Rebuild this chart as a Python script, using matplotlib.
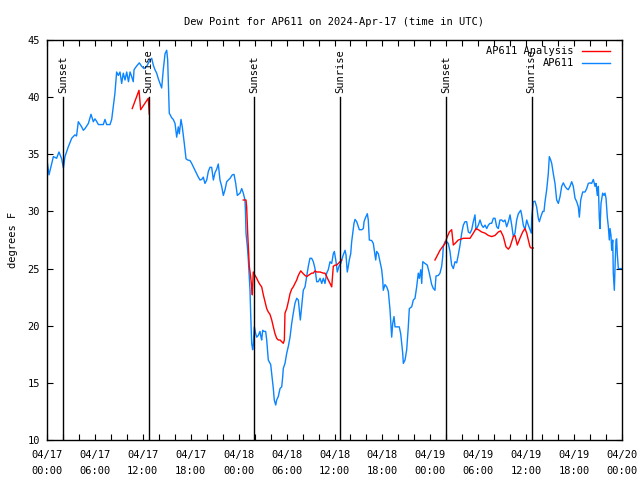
import matplotlib
matplotlib.use("Agg")
import matplotlib.pyplot as plt
import numpy as np

# ---------------- data ----------------
title = "Dew Point for AP611 on 2024-Apr-17 (time in UTC)"

# hours since 2024-04-17 00:00 UTC, dew point (F) for station AP611
obs_hours = [0.0, 0.25, 0.8, 1.2, 1.5, 1.84, 2.05, 2.25, 2.67, 3.09, 3.5, 3.7, 3.92, 4.34, 4.55, 4.76,
             5.18, 5.51, 5.8, 6.0, 6.2, 6.43, 7.05, 7.26, 7.47, 7.89, 8.1, 8.3, 8.5, 8.72, 8.93, 9.14,
             9.35, 9.55, 9.77, 9.98, 10.2, 10.4, 10.6, 10.8, 10.9, 11.2, 11.56, 11.85, 12.15, 12.48,
             12.9, 13.11, 13.31, 13.52, 13.73, 13.94, 14.15, 14.36, 14.56, 14.78, 14.99, 15.11, 15.19,
             15.31, 15.61, 15.81, 16.03, 16.24, 16.44, 16.57, 16.78, 16.94, 17.19, 17.41, 17.62, 17.91,
             18.12, 18.32, 18.53, 18.74, 18.95, 19.16, 19.37, 19.57, 19.78, 20.0, 20.2, 20.41, 20.62,
             20.83, 21.04, 21.25, 21.45, 21.66, 21.87, 22.08, 22.29, 22.5, 22.92, 23.2, 23.42, 23.63,
             23.83, 24.17, 24.38, 24.58, 24.79, 24.85, 24.92, 25.09, 25.21, 25.33, 25.42, 25.5, 25.63,
             25.75, 25.83, 25.96, 26.13, 26.26, 26.46, 26.67, 26.8, 26.88, 27.01, 27.17, 27.38, 27.51,
             27.71, 28.01, 28.14, 28.34, 28.46, 28.64, 28.76, 28.96, 29.18, 29.39, 29.51, 29.59, 29.8,
             30.02, 30.22, 30.43, 30.64, 30.84, 31.05, 31.27, 31.47, 31.59, 31.72, 31.89, 32.09, 32.31,
             32.52, 32.72, 32.93, 33.14, 33.35, 33.56, 33.77, 33.97, 34.19, 34.4, 34.6, 34.81, 35.02,
             35.22, 35.44, 35.65, 35.85, 35.98, 36.19, 36.35, 36.56, 36.78, 36.9, 37.1, 37.32, 37.44,
             37.6, 37.73, 37.85, 38.03, 38.15, 38.28, 38.44, 38.57, 38.78, 38.98, 39.11, 39.41, 39.61,
             39.7, 39.91, 40.11, 40.23, 40.36, 40.66, 40.86, 40.98, 41.16, 41.28, 41.49, 41.7, 41.91,
             42.04, 42.11, 42.32, 42.54, 42.74, 42.95, 43.08, 43.16, 43.29, 43.45, 43.58, 43.79, 44.11,
             44.29, 44.41, 44.54, 44.62, 44.83, 45.04, 45.24, 45.37, 45.67, 45.87, 46.08, 46.29, 46.49,
             46.62, 46.8, 46.92, 47.05, 47.33, 47.62, 47.87, 48.17, 48.37, 48.58, 48.71, 49.0, 49.21,
             49.42, 49.55, 49.62, 49.75, 49.84, 50.05, 50.25, 50.46, 50.67, 50.88, 51.09, 51.3, 51.5,
             51.72, 51.93, 52.13, 52.34, 52.55, 52.76, 52.97, 53.18, 53.38, 53.59, 53.72, 54.01, 54.22,
             54.43, 54.63, 54.85, 55.06, 55.26, 55.47, 55.68, 55.89, 56.1, 56.31, 56.51, 56.72, 56.94,
             57.14, 57.35, 57.56, 57.77, 57.98, 58.19, 58.39, 58.6, 58.81, 59.02, 59.32, 59.44, 59.64,
             59.85, 60.07, 60.27, 60.48, 60.64, 60.69, 60.89, 61.1, 61.31, 61.52, 61.65, 61.82, 62.07,
             62.23, 62.36, 62.57, 62.77, 62.9, 63.07, 63.2, 63.4, 63.61, 63.82, 64.03, 64.24, 64.45,
             64.65, 64.86, 65.07, 65.27, 65.49, 65.7, 65.9, 66.12, 66.33, 66.53, 66.66, 66.83, 67.08,
             67.37, 67.58, 67.78, 67.99, 68.2, 68.41, 68.62, 68.75, 68.91, 69.04, 69.16, 69.25, 69.37,
             69.58, 69.75, 69.87, 70.0, 70.16, 70.29, 70.41, 70.5, 70.62, 70.71, 70.84, 70.91, 71.04,
             71.13, 71.25, 71.33, 71.41, 71.54, 71.75, 72.0]
obs_dewpt = [34.5, 33.2, 34.8, 34.65, 35.2, 34.6, 33.8, 34.8, 35.66, 36.4, 36.7, 36.6, 37.85, 37.4, 37.1, 37.25,
             37.7, 38.5, 37.85, 38.1, 37.9, 37.6, 37.6, 38.05, 37.6, 37.6, 38.05, 39.2, 40.3, 42.2, 41.9, 42.2,
             41.2, 42.1, 41.5, 42.2, 41.35, 42.2, 41.8, 41.35, 42.4, 42.7, 43.0, 42.7, 42.5, 42.7,
             43.25, 43.4, 42.8, 42.4, 42.1, 41.6, 41.2, 40.8, 42.4, 43.8, 44.1, 43.25, 41.5,
             38.6, 38.2, 38.05, 37.7, 36.5, 37.4, 36.8, 38.05, 37.4, 35.96, 34.6, 34.5, 34.45,
             34.2, 33.9, 33.6, 33.3, 33.0, 32.75, 32.8, 33.0, 32.45, 32.75, 33.5, 33.86, 33.86,
             32.75, 33.4, 33.7, 34.15, 32.75, 32.2, 31.4, 31.9, 32.6, 32.9, 33.2, 33.24, 32.45,
             31.4, 31.6, 32.0, 31.6, 31.0, 30.0, 28.1, 26.9, 25.75, 24.3, 23.1, 21.1, 18.46,
             17.9, 18.3, 19.9, 19.3, 19.0, 19.15, 19.5, 19.0, 18.75, 19.6, 19.5, 19.5, 18.75,
             17.0, 16.6, 15.8, 14.5, 13.5, 13.06, 13.5, 13.8, 14.5, 14.66, 15.5, 16.27, 16.7,
             17.6, 18.2, 19.0, 20.2, 21.1, 21.96, 22.4, 22.25, 21.4, 20.5, 21.7, 23.1, 23.4,
             24.3, 25.2, 25.9, 25.9, 25.6, 25.0, 23.85, 23.85, 24.15, 23.7, 24.15, 23.7, 24.6,
             24.9, 25.6, 25.45, 26.3, 26.5, 25.6, 24.7, 25.2, 25.45, 25.75, 26.2, 26.6, 26.2,
             24.7, 25.2, 25.75, 26.3, 27.35, 28.1, 28.96, 29.3, 29.1, 28.66, 28.4, 28.4, 28.5,
             29.1, 29.5, 29.8, 29.25, 27.5, 27.45, 27.2, 26.6, 25.75, 26.5, 26.3, 25.6, 24.9,
             24.0, 23.1, 23.6, 23.4, 23.0, 21.4, 19.9, 19.0, 20.2, 20.8, 19.9, 19.9, 19.9,
             19.3, 18.46, 17.6, 16.7, 17.0, 17.9, 19.9, 21.5, 21.66, 22.25, 22.4, 23.4, 24.6,
             24.15, 24.9, 23.7, 25.6, 25.45, 25.3, 24.6, 23.6, 23.27, 23.1, 24.35, 24.4, 24.6,
             25.2, 26.05, 26.9, 27.2, 27.35, 27.35, 27.2, 26.5, 25.3, 25.0, 25.6, 25.5, 26.2,
             27.06, 28.1, 28.8, 29.1, 29.1, 28.2, 28.1, 28.4, 29.1, 29.7, 28.4, 28.8, 29.25,
             28.8, 28.6, 28.8, 28.5, 28.8, 28.96, 28.96, 29.4, 29.4, 28.66, 28.5, 29.25, 29.25,
             29.1, 29.25, 28.66, 29.1, 29.7, 28.8, 27.8, 28.1, 29.25, 29.8, 30.1, 29.7, 28.8,
             28.4, 29.25, 28.8, 28.4, 28.1, 29.4, 30.85, 30.9, 30.4, 29.4, 29.1, 29.5, 30.0,
             30.0, 30.85, 31.9, 33.3, 34.8, 34.5, 34.2, 33.3, 32.45, 31.0, 30.7, 31.3, 32.2,
             32.5, 32.2, 32.0, 31.9, 32.2, 32.6, 32.2, 31.15, 30.85, 30.4, 29.5, 31.0, 31.7,
             31.7, 32.0, 32.45, 32.5, 32.45, 32.8, 32.2, 32.45, 31.4, 32.2, 29.4, 28.5, 30.7,
             31.6, 31.4, 31.6, 31.15, 29.5, 28.66, 27.5, 28.5, 27.9, 26.6, 27.5, 24.6, 23.1,
             25.2, 27.5, 27.6, 26.3, 25.0, 25.0, 25.0]

# analysis series (gaps = nan)
ana_hours = [10.67, 11.52, 11.73, 12.68, 12.81, np.nan,
             24.58, 24.92, 25.0, 25.13, 25.33, 25.5, 25.63, 25.71, 25.83, 26.05, 26.26, 26.46, 26.67,
             26.88, 27.09, 27.3, 27.51, 27.71, 27.92, 28.14, 28.34, 28.55, 28.76, 28.96, 29.18, 29.39,
             29.59, 29.72, 29.8, 30.02, 30.22, 30.43, 30.64, 30.84, 31.05, 31.27, 31.47, 31.77, 32.02,
             32.31, 32.52, 32.72, 32.93, 33.14, 33.35, 33.56, 33.77, 34.19, 34.6, 34.81, 35.02, 35.22,
             35.44, 35.65, 35.85, 36.06, 36.27, 36.48, 36.69, 36.9, np.nan,
             48.58, 49.21, 49.84, 50.05, 50.38, 50.67, 50.88, 51.09, 51.3, 51.5, 51.72, 52.13, 52.55,
             52.97, 53.38, 53.72, 54.01, 54.43, 54.85, 55.26, 55.68, 56.1, 56.51, 56.8, 57.14, 57.47,
             57.77, 57.98, 58.39, 58.6, 58.89, 59.22, 59.56, 59.85, 60.07, 60.27, 60.48, 60.6, 60.9]
ana_dewpt = [39.0, 40.6, 38.9, 39.9, 38.5, np.nan,
             31.0, 31.0, 30.4, 28.1, 25.2, 24.3, 23.4, 22.7, 24.7, 24.4, 24.15, 23.85, 23.6,
             23.4, 22.7, 22.1, 21.5, 21.2, 21.0, 20.5, 19.9, 19.3, 18.9, 18.75, 18.75, 18.6,
             18.46, 18.75, 21.1, 21.5, 22.1, 22.8, 23.2, 23.4, 23.7, 24.0, 24.4, 24.8, 24.6,
             24.4, 24.3, 24.4, 24.5, 24.6, 24.6, 24.8, 24.7, 24.7, 24.6, 24.6, 24.3, 24.0,
             23.7, 23.4, 25.2, 25.3, 25.3, 25.45, 25.6, 25.75, np.nan,
             25.75, 26.6, 27.2, 27.65, 28.2, 28.4, 27.06, 27.2, 27.35, 27.5, 27.55, 27.65, 27.65,
             27.65, 28.1, 28.5, 28.4, 28.2, 28.1, 27.9, 27.8, 27.9, 28.2, 28.3, 27.8, 26.9,
             26.7, 26.9, 27.8, 27.9, 27.06, 27.65, 28.2, 28.5, 28.1, 27.5, 26.9, 26.8, 26.8]

sun_hours = [2.03, 12.72, 25.93, 36.75, 50.02, 60.67]
sun_labels = ["Sunset", "Sunrise", "Sunset", "Sunrise", "Sunset", "Sunrise"]

xtick_hours = [0, 6, 12, 18, 24, 30, 36, 42, 48, 54, 60, 66, 72]
xtick_labels = ["04/17\n00:00", "04/17\n06:00", "04/17\n12:00", "04/17\n18:00",
                "04/18\n00:00", "04/18\n06:00", "04/18\n12:00", "04/18\n18:00",
                "04/19\n00:00", "04/19\n06:00", "04/19\n12:00", "04/19\n18:00",
                "04/20\n00:00"]
yticks = [10, 15, 20, 25, 30, 35, 40, 45]

# ---------------- plot ----------------
FONT = "DejaVu Sans Mono"
FS = 7.5
plt.rcParams["font.family"] = FONT
plt.rcParams["font.size"] = FS

fig = plt.figure(figsize=(6.4, 4.8), dpi=100)
ax = fig.add_axes([47 / 640, 1 - 440 / 480, 575 / 640, 400 / 480])

ax.plot(ana_hours, ana_dewpt, color="#ff0000", lw=1.0, label="AP611 Analysis", zorder=3)
ax.plot(obs_hours, obs_dewpt, color="#0a84ff", lw=1.0, label="AP611", zorder=2)

for h, lab in zip(sun_hours, sun_labels):
    ax.plot([h, h], [10, 40.0], color="black", lw=1.0, zorder=4)
    ax.text(h, 40.4, lab, rotation=90, ha="center", va="bottom", fontsize=FS, zorder=5)

ax.set_xlim(0, 72)
ax.set_ylim(10, 45)
ax.set_xticks(xtick_hours)
ax.set_xticklabels(xtick_labels, linespacing=1.75)
ax.set_xticks(np.arange(0, 73, 2), minor=True)
ax.set_yticks(yticks)
ax.tick_params(axis="both", which="both", direction="in", top=True, right=True,
               length=4, width=0.8, labelsize=FS)
ax.tick_params(axis="x", which="major", pad=7)
ax.tick_params(axis="y", which="major", pad=5)
for s in ax.spines.values():
    s.set_linewidth(1.0)

ax.set_ylabel("degrees F", fontsize=FS, labelpad=7)
ax.set_title(title, fontsize=FS, pad=11)

leg = ax.legend(loc="upper right", bbox_to_anchor=(0.986, 0.995), borderaxespad=0.0,
                frameon=False, markerfirst=False, fontsize=FS,
                handlelength=2.7, handletextpad=0.75, labelspacing=0.2)

fig.savefig("out.png", dpi=100)
